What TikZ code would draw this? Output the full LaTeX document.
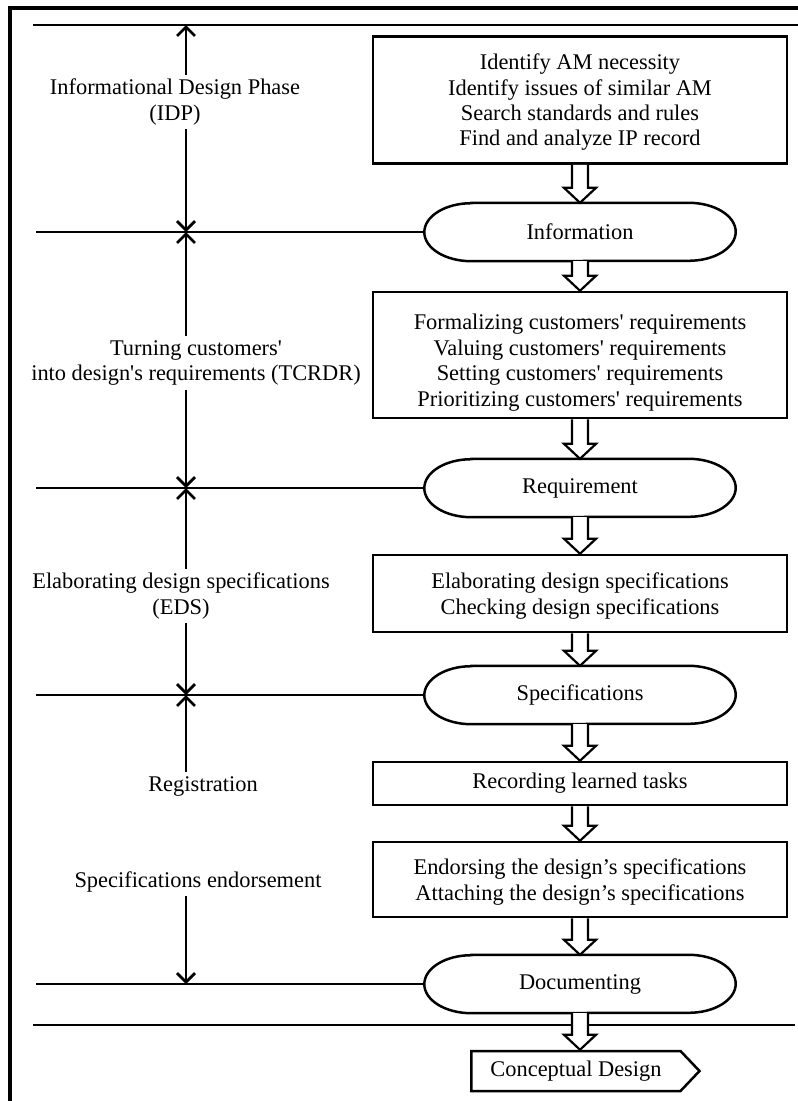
\documentclass[tikz,border=0pt]{standalone}
\usepackage{fontspec}
\setmainfont{Liberation Serif}
\usetikzlibrary{calc, positioning, shapes.symbols, arrows.meta}

\tikzset{
  taskbox/.style={draw, line width=2.5pt, minimum width=414pt, align=center, inner sep=0pt, text depth=0pt},
  capsule/.style={minimum width=311pt, minimum height=58pt, inner sep=0pt},
  outline/.style={line width=2.5pt},
  rule/.style={line width=2.4pt},
  phase/.style={align=center, inner sep=4pt},
  span/.style={line width=2.8pt, -{Straight Barb[length=9pt,width=18pt,line width=2.8pt]}},
  hollow/.style={line width=2.2pt, fill=white, line join=miter},
}
% outline of a capsule node with elliptic ends
\newcommand{\capsuleline}[1]{%
  \draw[outline] ($(#1.north west)+(47,0)$) -- ($(#1.north east)+(-47,0)$)
    arc[start angle=-90,end angle=90,x radius=47,y radius=29]
    -- ($(#1.south west)+(47,0)$)
    arc[start angle=90,end angle=270,x radius=47,y radius=29] -- cycle;}
% hollow block arrow between two nodes
\newcommand{\hollowarrow}[2]{%
  \coordinate (tip) at (#1.south |- #2.north);
  \draw[hollow] ($(#1.south)+(-8,0)$) -- ($(tip)+(-8,-15)$)
    -- ($(tip)+(-16,-15)$) -- (tip) -- ($(tip)+(16,-15)$)
    -- ($(tip)+(8,-15)$) -- ($(#1.south)+(8,0)$);}
\newcommand{\q}{\textquotesingle}

\begin{document}
\begin{tikzpicture}[x=1pt, y=-1pt, font=\fontsize{22.4}{25.4}\selectfont]
    \useasboundingbox (0,0) rectangle (798,1101);
    % frame
    \draw[line width=3.8pt] (10,1101) -- (10,8) -- (798,8);
    \coordinate (t0) at (33,25);
    \coordinate (t1) at (798,25);
    \coordinate (b0) at (33,1025);
    \coordinate (b1) at (795,1025);
    \coordinate (edge) at (36,0);
    \coordinate (axis) at (186,0);
    \draw[rule] (t0) -- (t1);
    \draw[rule] (b0) -- (b1);

    % process column
    \node[taskbox, minimum height=127pt] (find) at (580,100)
        {Identify AM necessity\\Identify issues of similar AM\\Search standards and rules\\Find and analyze IP record};
    \node[capsule] (info) at (580,232) {Information};
    \node[taskbox, minimum height=126pt] (turn) at (580,355)
        {\rule{0pt}{26pt}Formalizing customers\q{} requirements\\Valuing customers\q{} requirements\\Setting customers\q{} requirements\\Prioritizing customers\q{} requirements};
    \node[capsule] (req) at (580,488) {Requirement};
    \node[taskbox, minimum height=77pt] (elab) at (580,593.5)
        {Elaborating design specifications\\Checking design specifications};
    \node[capsule] (spec) at (580,695) {Specifications};
    \node[taskbox, minimum height=43pt, text depth=5pt] (record) at (580,783.5) {Recording learned tasks};
    \node[taskbox, minimum height=75pt] (endorse) at (580,879.5)
        {Endorsing the design's specifications\\Attaching the design's specifications};
    \node[capsule] (doc) at (580,984) {Documenting};
    \node[draw, signal, signal to=east, signal pointer angle=93, line width=2.5pt,
        minimum width=228pt, minimum height=40pt, inner sep=0pt] (concept) at (576,1071) {Conceptual Design};

    \foreach \n in {info, req, spec, doc} {
        \capsuleline{\n}
        \draw[rule] (\n.west -| edge) -- (\n.west);
    }
    \foreach \a/\b in {find/info, info/turn, turn/req, req/elab, elab/spec, spec/record, record/endorse, endorse/doc, doc/concept}
        \hollowarrow{\a}{\b};

    % phases
    \node[phase] (idp) at (175,102) {Informational Design Phase\\(IDP)};
    \node[phase] (tcrdr) at (196,363) {Turning customers\q\\into design\q{}s requirements (TCRDR)};
    \node[phase] (eds) at (181,596) {Elaborating design specifications\\(EDS)};
    \node[phase] (reg) at (203,786) {Registration};
    \node[phase] (sendorse) at (198,882) {Specifications endorsement};

    \draw[span] (idp.north -| axis) -- (t0 -| axis);
    \draw[span] (idp.south -| axis) -- (info.west -| axis);
    \draw[span] (tcrdr.north -| axis) -- (info.west -| axis);
    \draw[span] (tcrdr.south -| axis) -- (req.west -| axis);
    \draw[span] (eds.north -| axis) -- (req.west -| axis);
    \draw[span] (eds.south -| axis) -- (spec.west -| axis);
    \draw[span] (reg.north -| axis) -- (spec.west -| axis);
    \draw[span] (sendorse.south -| axis) -- (doc.west -| axis);
\end{tikzpicture}
\end{document}
